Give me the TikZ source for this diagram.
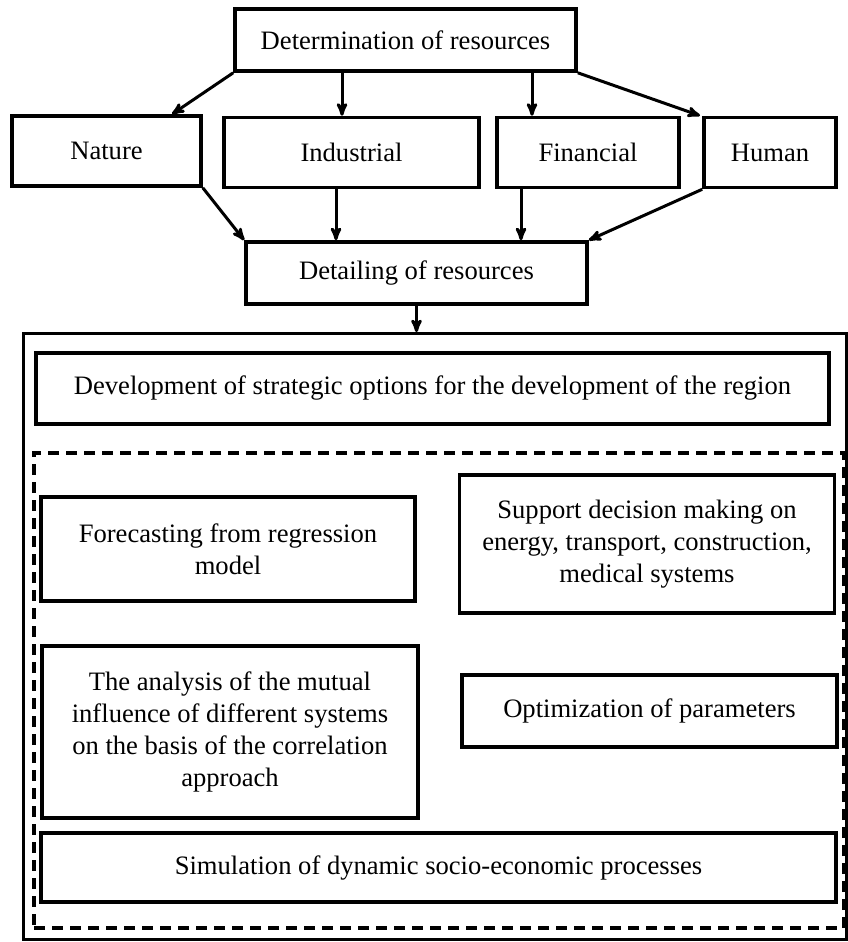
\documentclass[tikz,border=0pt]{standalone}
\usepackage{fontspec}
\setmainfont{Liberation Serif}
\usetikzlibrary{arrows,positioning}
\tikzset{
	box/.style = {draw=black, line width=3.6pt, align=center, inner sep=0pt,
		font=\fontsize{26.6}{31.7}\selectfont},
	res_box/.style = {box, minimum height=70pt},% resource box
	opt_box/.style = {box, minimum width=375pt},% option box
	dash_frame/.style = {draw=black, line width=3.2pt, inner sep=0pt,
		dash pattern=on 11pt off 7pt}% tools frame
}

\begin{document}
\begin{tikzpicture}[x=1pt, y=-1pt, ->, >=stealth', line width=3pt]
\useasboundingbox (0,0) rectangle (848,942);
% resources
\node [box, minimum width=341pt, minimum height=62pt] (det) at (405.5,40) {Determination of resources};
\node [res_box, minimum width=189pt] (nat) at (106.5,151) {Nature};
\node [res_box, minimum width=255pt] (ind) at (351.5,152.5) {Industrial};
\node [res_box, minimum width=182pt] (fin) at (588,152.5) {Financial};
\node [res_box, minimum width=132pt] (hum) at (770,152.5) {Human};
\node [box, minimum width=341pt, minimum height=62pt] (detl) at (416.5,273) {Detailing of resources};
\draw (det.south west) -- ([xshift=65.5pt]nat.north);
\draw ([xshift=-63.5pt]det.south) -- ([xshift=-9.5pt]ind.north);
\draw ([xshift=126.5pt]det.south) -- ([xshift=-56pt]fin.north);
\draw (det.south east) -- ([xshift=-70pt]hum.north);
\draw (nat.south east) -- (detl.north west);
\draw ([xshift=-15.5pt]ind.south) -- ([xshift=-80.5pt]detl.north);
\draw ([xshift=-67pt]fin.south) -- ([xshift=104.5pt]detl.north);
\draw (hum.south west) -- (detl.north east);
% region
\node [draw=black, line width=2.8pt, inner sep=0pt, minimum width=823pt, minimum height=606pt] (frame) at (435,636.5) {};
\draw (detl.south) -- (detl.south |- frame.north);
\node [box, minimum width=793pt, minimum height=71pt] (devl) at (432.5,388.5) {Development of strategic options for the development of the region};
\node [dash_frame, minimum width=810pt, minimum height=475pt] (tools) at (439,690.5) {};
\node [opt_box, minimum width=374pt, minimum height=104pt] (fcst) at (228,549) {Forecasting from regression\\model};
\node [opt_box, minimum height=138pt] (supp) at (647,544) {Support decision making on\\energy, transport, construction,\\medical systems};
\node [opt_box, minimum width=376pt, minimum height=172pt] (anls) at (230,732) {The analysis of the mutual\\influence of different systems\\on the basis of the correlation\\approach};
\node [opt_box, minimum height=72pt] (optm) at (649.5,711) {Optimization of parameters};
\node [box, minimum width=795pt, minimum height=69pt] (simu) at (438.5,867.5) {Simulation of dynamic socio-economic processes};
\end{tikzpicture}
\end{document}
